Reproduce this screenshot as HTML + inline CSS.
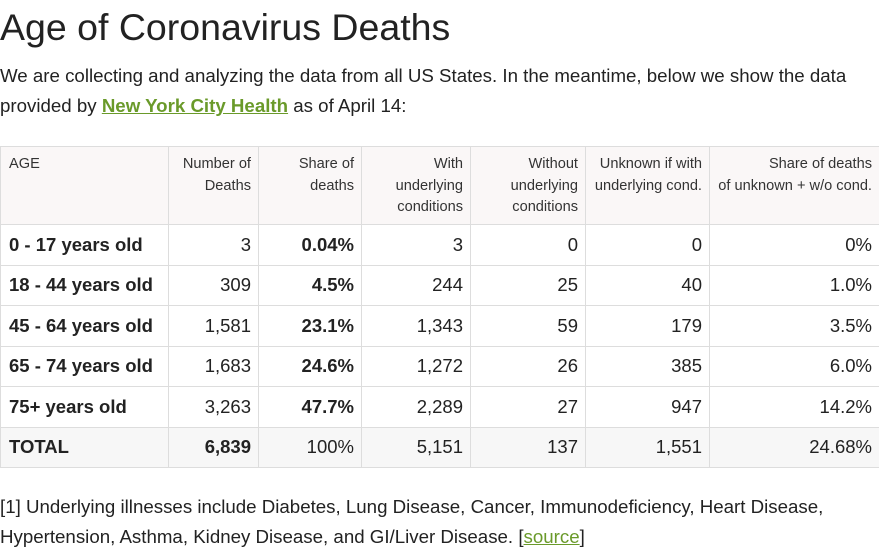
<!DOCTYPE html>
<html><head><meta charset="utf-8"><style>
body{margin:0;background:#fff;font-family:"Liberation Sans",Arial,sans-serif;color:#222;width:879px;height:556px;overflow:hidden;position:relative}
h1{position:absolute;left:0;top:5px;margin:0;font-weight:normal;font-size:37.5px;line-height:44px;color:#222}
p{position:absolute;left:0;margin:0;font-size:18.7px;line-height:30px;color:#222;white-space:nowrap}
a{color:#6a9a2a;font-weight:bold;text-decoration:underline}
a.s{font-weight:normal}
table{position:absolute;left:0;top:146px;border-collapse:collapse;table-layout:fixed;width:879px}
td,th{border:1px solid #ddd;padding:0 7px 0 8px;text-align:right;white-space:nowrap}
th{font-weight:normal;font-size:14.6px;line-height:21.5px;vertical-align:top;padding-top:7px;height:70px;background:#faf7f7;color:#333}
td{font-size:18.5px;height:39.5px;vertical-align:middle}
td:first-child,th:first-child{text-align:left;font-weight:bold}
th:first-child{font-weight:normal}
tr.t td{background:#f7f7f7}
b{font-weight:bold}
</style></head><body>
<h1>Age of Coronavirus Deaths</h1>
<p style="top:61px">We are collecting and analyzing the data from all US States. In the meantime, below we show the data<br>provided by <a>New York City Health</a> as of April 14:</p>
<table>
<colgroup><col style="width:168px"><col style="width:90px"><col style="width:103px"><col style="width:109px"><col style="width:115px"><col style="width:124px"><col style="width:170px"></colgroup>
<tr><th>AGE</th><th>Number of<br>Deaths</th><th>Share of<br>deaths</th><th>With<br>underlying<br>conditions</th><th>Without<br>underlying<br>conditions</th><th>Unknown if with<br>underlying cond.</th><th>Share of deaths<br>of unknown + w/o cond.</th></tr>
<tr><td>0 - 17 years old</td><td>3</td><td><b>0.04%</b></td><td>3</td><td>0</td><td>0</td><td>0%</td></tr>
<tr><td>18 - 44 years old</td><td>309</td><td><b>4.5%</b></td><td>244</td><td>25</td><td>40</td><td>1.0%</td></tr>
<tr><td>45 - 64 years old</td><td>1,581</td><td><b>23.1%</b></td><td>1,343</td><td>59</td><td>179</td><td>3.5%</td></tr>
<tr><td>65 - 74 years old</td><td>1,683</td><td><b>24.6%</b></td><td>1,272</td><td>26</td><td>385</td><td>6.0%</td></tr>
<tr><td>75+ years old</td><td>3,263</td><td><b>47.7%</b></td><td>2,289</td><td>27</td><td>947</td><td>14.2%</td></tr>
<tr class="t"><td>TOTAL</td><td><b>6,839</b></td><td>100%</td><td>5,151</td><td>137</td><td>1,551</td><td>24.68%</td></tr>
</table>
<p style="top:492px">[1] Underlying illnesses include Diabetes, Lung Disease, Cancer, Immunodeficiency, Heart Disease,<br>Hypertension, Asthma, Kidney Disease, and GI/Liver Disease. [<a class="s">source</a>]</p>
</body></html>
